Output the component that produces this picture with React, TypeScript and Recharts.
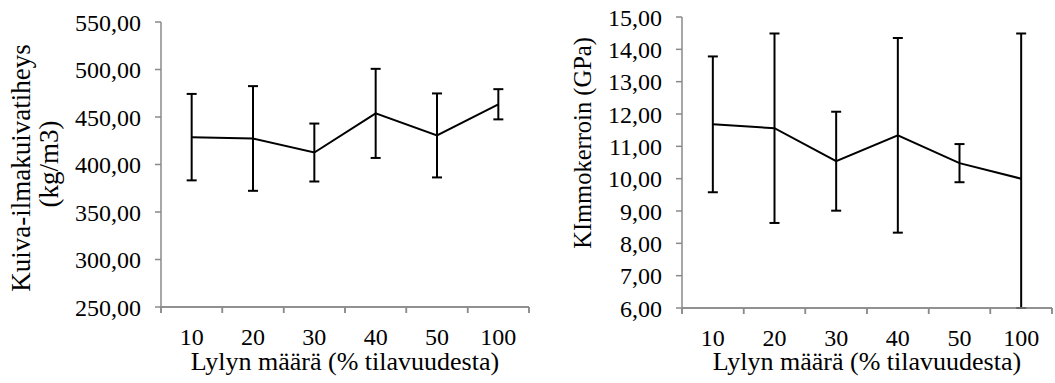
import React from 'react';
import { LineChart, Line, XAxis, YAxis, ErrorBar, Label, ReferenceLine } from 'recharts';

// Glue share of volume (%)
const categories = ['10', '20', '30', '40', '50', '100'];

// Air-dry density, mean and standard deviation (kg/m3)
const densityMean = [428.8, 427.4, 412.6, 453.8, 430.6, 463.4];
const densitySd = [45.5, 55.1, 30.5, 46.9, 44.2, 15.9];
const densityTicks = [250, 300, 350, 400, 450, 500, 550];

// Modulus of elasticity, mean and standard deviation (GPa)
const modulusMean = [11.68, 11.56, 10.54, 11.34, 10.48, 10.0];
const modulusSd = [2.1, 2.93, 1.53, 3.01, 0.59, 4.49];
const modulusTicks = [6, 7, 8, 9, 10, 11, 12, 13, 14, 15];

const FONT = '"Liberation Serif", "Times New Roman", serif';
const AXIS_GREY = '#8a8a8a';
const TICK_FONT = 24;
const X_TITLE_FONT = 26;
const TICK_SIZE = 6;
const X_TICK_MARGIN = 15;
const HEIGHT = 383;

// each category sits in the middle of its slot; whiskers are cut at the
// bottom of the value axis, like the plot area clips them
const build = (mean: number[], sd: number[], yMin: number) =>
  categories.map((group, i) => ({
    group,
    slot: i + 0.5,
    value: mean[i],
    err: [Math.min(sd[i], mean[i] - yMin), sd[i]],
  }));

const densityData = build(densityMean, densitySd, densityTicks[0]);
const modulusData = build(modulusMean, modulusSd, modulusTicks[0]);

// slot boundaries carry the tick marks, Excel style
const slotEdges = [...categories.map((_, i) => i), categories.length];

const fmt = (v: number) => v.toFixed(2).replace('.', ',');

// the label for slot i is written half a slot right of its left edge
const renderSlotTick = (props: any, band: number) => {
  const i = props.payload.value;
  if (i >= categories.length) return <g />;
  return (
    <text x={props.x + band / 2} y={props.y} dy="0.71em" textAnchor="middle" fontSize={TICK_FONT} fontFamily={FONT} fill="#000">
      {categories[i]}
    </text>
  );
};

const xTitle = (props: any) => {
  const { x, y, width, height } = props.viewBox;
  return (
    <text x={x + width / 2} y={y + height - 13} textAnchor="middle" fontSize={X_TITLE_FONT} fontFamily={FONT} fill="#000">
      Lylyn määrä (% tilavuudesta)
    </text>
  );
};

const rotated = (text: string, x: number, y: number, size: number) => (
  <text x={x} y={y} transform={`rotate(-90 ${x} ${y})`} textAnchor="middle" fontSize={size} fontFamily={FONT} fill="#000">
    {text}
  </text>
);

const densityTitle = () => (
  <g>
    {rotated('Kuiva-ilmakuivatiheys', 30, 168, 27)}
    {rotated('(kg/m3)', 58, 164, 27)}
  </g>
);

const modulusTitle = () => <g>{rotated('KImmokerroin (GPa)', 36, 143, 24.5)}</g>;

interface PanelProps {
  data: { group: string; slot: number; value: number; err: number[] }[];
  width: number;
  margin: { top: number; right: number; left: number; bottom: number };
  yWidth: number;
  xHeight: number;
  ticks: number[];
  title: (props: any) => React.ReactNode;
}

const Panel = ({ data, width, margin, yWidth, xHeight, ticks, title }: PanelProps) => {
  const band = (width - margin.left - margin.right - yWidth) / categories.length;
  const yMin = ticks[0];
  const yMax = ticks[ticks.length - 1];
  // tick mark length in value units, so the marks hang below the axis line
  const markLen = ((yMax - yMin) * TICK_SIZE) / (HEIGHT - margin.top - margin.bottom - xHeight);
  return (
    <LineChart width={width} height={HEIGHT} data={data} margin={margin}>
      <XAxis
        dataKey="slot"
        type="number"
        domain={[0, categories.length]}
        allowDataOverflow
        ticks={slotEdges}
        interval={0}
        height={xHeight}
        stroke={AXIS_GREY}
        strokeWidth={1.5}
        tickSize={TICK_SIZE}
        tickMargin={X_TICK_MARGIN}
        tick={(p: any) => renderSlotTick(p, band)}
      >
        <Label content={xTitle} />
      </XAxis>
      <YAxis
        width={yWidth}
        domain={[yMin, yMax]}
        allowDataOverflow
        ticks={ticks}
        interval={0}
        tickFormatter={fmt}
        tickSize={TICK_SIZE}
        tickMargin={14}
        stroke={AXIS_GREY}
        strokeWidth={1.5}
        tick={{ fill: '#000', fontSize: TICK_FONT, fontFamily: FONT }}
      >
        <Label content={title} />
      </YAxis>
      <ReferenceLine y={yMin} stroke={AXIS_GREY} strokeWidth={1.5} ifOverflow="visible" />
      {slotEdges.map((edge) => (
        <ReferenceLine
          key={edge}
          segment={[
            { x: edge, y: yMin },
            { x: edge, y: yMin - markLen },
          ]}
          stroke={AXIS_GREY}
          strokeWidth={1.5}
          ifOverflow="visible"
        />
      ))}
      <Line type="linear" dataKey="value" stroke="#000" strokeWidth={2} dot={false} isAnimationActive={false}>
        <ErrorBar dataKey="err" direction="y" width={5} stroke="#000" strokeWidth={2} />
      </Line>
    </LineChart>
  );
};

export default function App() {
  return (
    <div style={{ position: 'absolute', left: 0, top: 0, width: 1055, height: HEIGHT, background: '#fff' }}>
      <div style={{ position: 'absolute', left: 0, top: 0 }}>
        <Panel
          data={densityData}
          width={555}
          margin={{ top: 22, right: 26, left: 0, bottom: 0 }}
          yWidth={161}
          xHeight={76}
          ticks={densityTicks}
          title={densityTitle}
        />
      </div>
      <div style={{ position: 'absolute', left: 555, top: 0 }}>
        <Panel
          data={modulusData}
          width={500}
          margin={{ top: 17, right: 3, left: 0, bottom: 0 }}
          yWidth={127}
          xHeight={75}
          ticks={modulusTicks}
          title={modulusTitle}
        />
      </div>
    </div>
  );
}
